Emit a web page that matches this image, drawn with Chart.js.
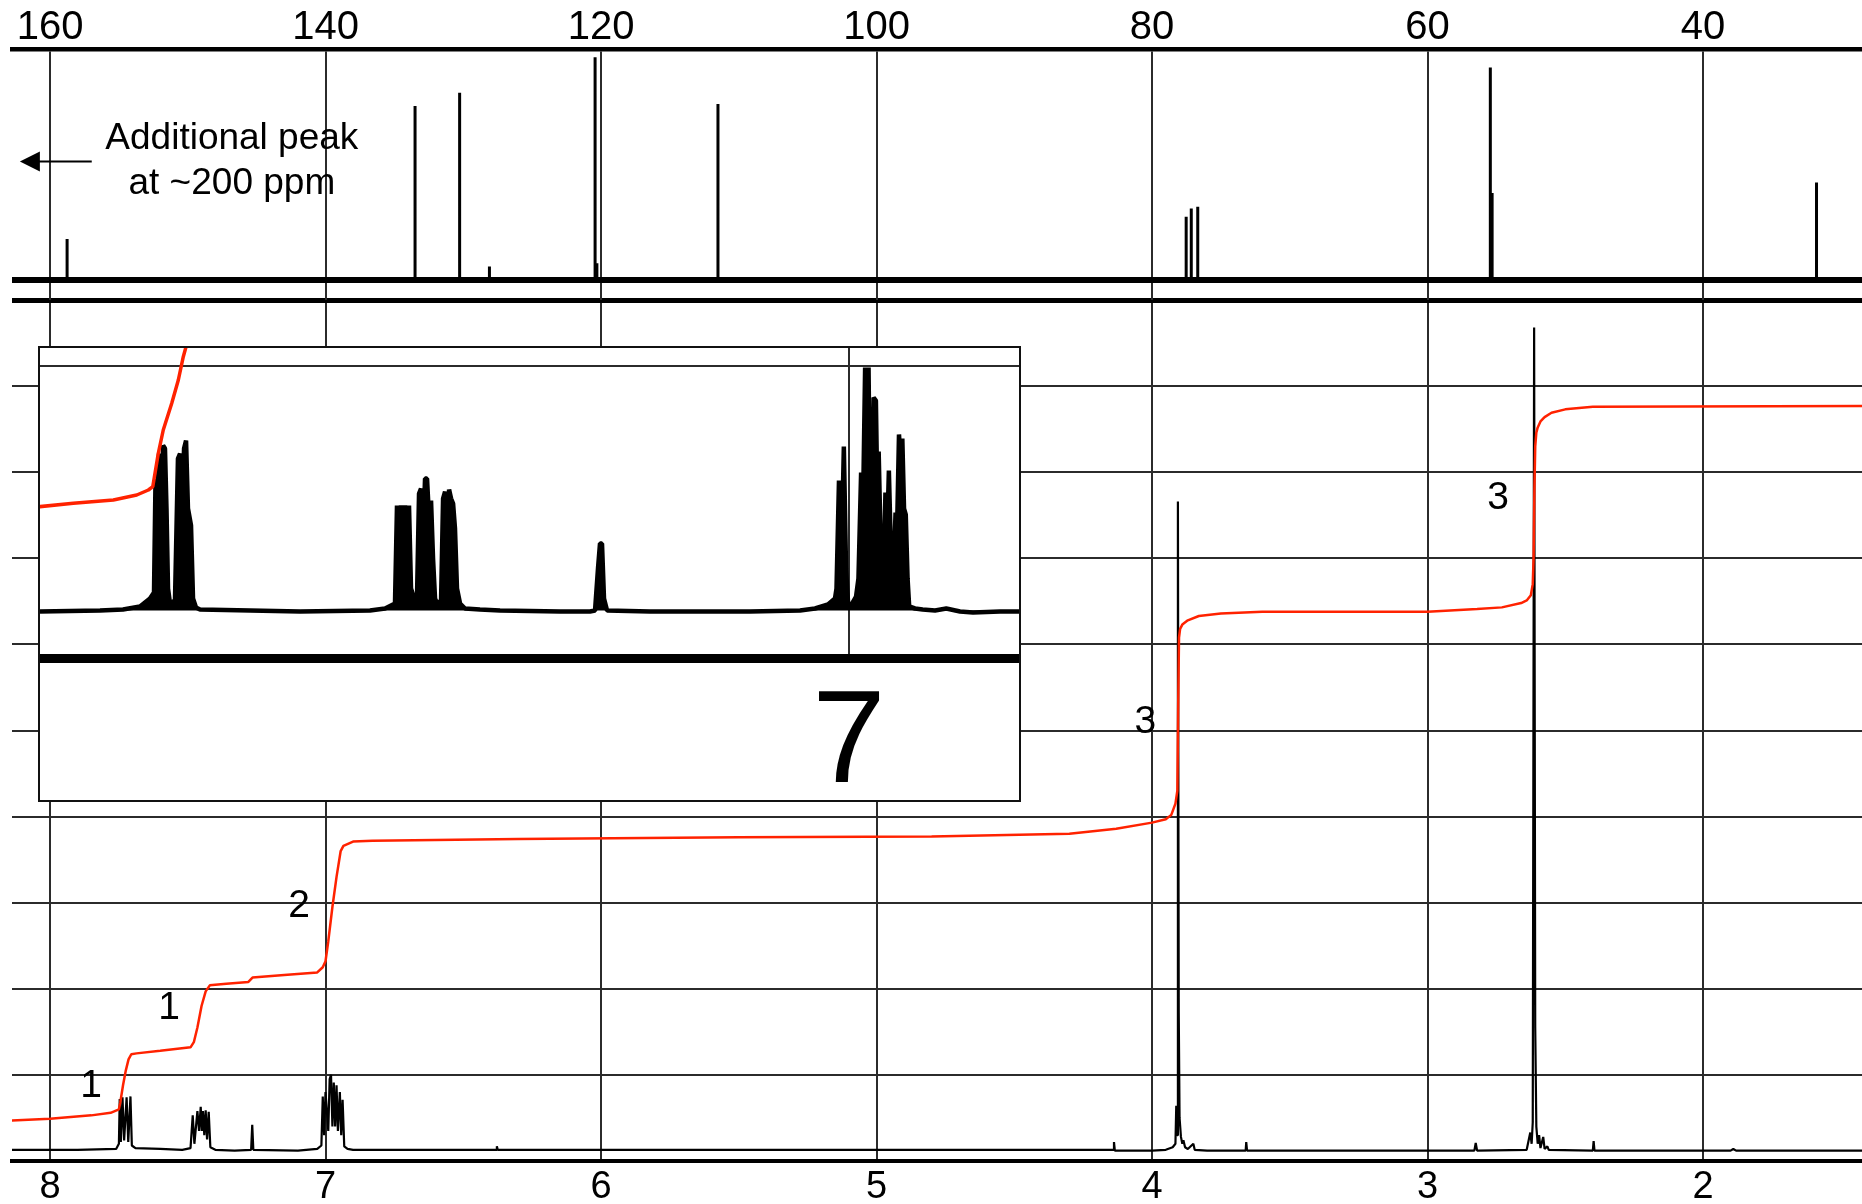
<!DOCTYPE html>
<html>
<head>
<meta charset="utf-8">
<script src="https://cdn.jsdelivr.net/npm/chart.js@4.4.1/dist/chart.umd.min.js"></script>
<style>
    html, body { margin: 0; padding: 0; background: #fff; }
    body { width: 1862px; height: 1204px; position: relative; overflow: hidden; }
    canvas { position: absolute; left: 0; top: 0; }
    #insetBox { position: absolute; left: 38px; top: 346px; width: 983px; height: 456px;
                box-sizing: border-box; border: 2px solid #111; background: #fff; }
</style>
</head>
<body>
<canvas id="protonCanvas" width="1862" height="1204"></canvas>
<canvas id="carbonCanvas" width="1862" height="300"></canvas>
<div id="insetBox"><canvas id="insetCanvas" width="979" height="452"></canvas></div>
<script>
// Axis ranges (ppm)
const protonRange = [1.4229, 8.138];
const carbonRange = [28.458, 162.76];
const insetRange = [6.8218, 7.848];

// 13C spectrum: peak positions (ppm) and heights
const carbonShift  = [158.76, 133.50, 130.30, 130.24, 128.10, 120.43, 120.30, 111.51, 77.52, 77.15, 76.68, 55.44, 55.31, 31.76];
const carbonHeight = [16.3,   69.3,   74.6,   67.7,   5.3,    88.7,   6.6,    70.1,   25.2,  28.5,  29.2,  84.6,  34.6,  38.8];

// 1H spectrum trace (ppm, intensity)
const protonPpm = [8.14, 7.90, 7.76, 7.750, 7.747, 7.743, 7.737, 7.731, 7.722, 7.716, 7.708, 7.703, 7.69, 7.60, 7.52,
    7.490, 7.482, 7.476, 7.465, 7.459, 7.453, 7.449, 7.445, 7.440, 7.435, 7.430, 7.424, 7.418, 7.40, 7.33,
    7.270, 7.266, 7.262, 7.10, 7.030, 7.015, 7.010, 7.005, 7.000, 6.990, 6.985, 6.980, 6.975, 6.970, 6.965,
    6.960, 6.955, 6.948, 6.943, 6.938, 6.932, 6.920, 6.90, 6.380, 6.378, 6.375, 4.20, 4.140, 4.138, 4.135,
    4.00, 3.95, 3.925, 3.915, 3.912, 3.909, 3.906, 3.903, 3.900, 3.895, 3.890, 3.886, 3.880, 3.870, 3.850,
    3.845, 3.80, 3.660, 3.658, 3.655, 2.830, 2.825, 2.820, 2.640, 2.627, 2.622, 2.618, 2.613, 2.609, 2.605,
    2.600, 2.595, 2.590, 2.580, 2.575, 2.565, 2.560, 2.400, 2.397, 2.394, 1.900, 1.890, 1.880, 1.42];
const protonIntensity = [0.13, 0.13, 0.14, 0.20, 0.72, 0.22, 0.74, 0.24, 0.74, 0.22, 0.75, 0.18, 0.15, 0.14, 0.13,
    0.15, 0.53, 0.20, 0.58, 0.35, 0.63, 0.35, 0.58, 0.30, 0.59, 0.25, 0.57, 0.16, 0.13, 0.12,
    0.13, 0.42, 0.13, 0.12, 0.14, 0.18, 0.75, 0.30, 0.80, 0.35, 0.95, 1.00, 0.40, 0.91, 0.40,
    0.88, 0.35, 0.80, 0.30, 0.71, 0.17, 0.14, 0.13, 0.13, 0.17, 0.13, 0.13, 0.13, 0.22, 0.12,
    0.12, 0.13, 0.16, 0.20, 0.64, 0.30, 7.66, 1.73, 0.50, 0.28, 0.20, 0.24, 0.16, 0.14, 0.20,
    0.13, 0.12, 0.12, 0.22, 0.12, 0.12, 0.21, 0.12, 0.13, 0.33, 0.20, 0.45, 9.68, 1.55, 0.40,
    0.20, 0.30, 0.15, 0.28, 0.14, 0.17, 0.13, 0.12, 0.23, 0.12, 0.12, 0.14, 0.12, 0.12];

// 1H integral curve
const integralPpm = [8.14, 8.00, 7.85, 7.78, 7.750, 7.745, 7.735, 7.725, 7.715, 7.705, 7.686, 7.60, 7.49, 7.478,
    7.465, 7.450, 7.435, 7.420, 7.36, 7.28, 7.265, 7.15, 7.03, 7.01, 7.00, 6.99, 6.975, 6.96, 6.945, 6.935,
    6.90, 6.83, 6.30, 5.50, 4.80, 4.30, 4.13, 4.00, 3.95, 3.93, 3.915, 3.908, 3.905, 3.902, 3.898, 3.89,
    3.87, 3.83, 3.75, 3.60, 3.00, 2.82, 2.73, 2.66, 2.64, 2.625, 2.618, 2.615, 2.612, 2.609, 2.605, 2.600,
    2.590, 2.575, 2.55, 2.50, 2.40, 1.42];
const integralValue = [0.47, 0.49, 0.53, 0.56, 0.60, 0.68, 0.88, 1.05, 1.18, 1.24, 1.25, 1.28, 1.32, 1.38,
    1.55, 1.80, 1.97, 2.04, 2.06, 2.08, 2.13, 2.16, 2.19, 2.25, 2.32, 2.55, 2.95, 3.30, 3.60, 3.66,
    3.71, 3.72, 3.74, 3.76, 3.77, 3.80, 3.86, 3.93, 3.97, 4.02, 4.15, 4.30, 5.30, 6.08, 6.18, 6.23,
    6.28, 6.33, 6.36, 6.38, 6.38, 6.41, 6.43, 6.48, 6.51, 6.57, 6.70, 7.00, 7.80, 8.30, 8.46, 8.52,
    8.59, 8.64, 8.69, 8.73, 8.76, 8.77];

// integration numbers
const integralLabels = ['1', '1', '2', '3', '3'];

// inset: expanded aromatic region
const insetPpm = [7.8480, 7.7851, 7.7610, 7.7432, 7.7327, 7.7285, 7.7269, 7.7253, 7.7232, 7.7211, 7.7190, 7.7170,
    7.7154, 7.7138, 7.7117, 7.7065, 7.7034, 7.7012, 7.6991, 7.6970, 7.6949, 7.6929, 7.6897, 7.6876, 7.6845,
    7.6803, 7.6278, 7.5754, 7.5021, 7.4863, 7.4759, 7.4738, 7.4717, 7.4696, 7.4675, 7.4654, 7.4633, 7.4612,
    7.4591, 7.4559, 7.4528, 7.4507, 7.4486, 7.4465, 7.4444, 7.4423, 7.4402, 7.4381, 7.4360, 7.4339, 7.4318,
    7.4276, 7.4255, 7.4234, 7.4213, 7.4192, 7.4171, 7.4150, 7.4130, 7.4109, 7.4077, 7.4025, 7.3868, 7.3658,
    7.3029, 7.2715, 7.2662, 7.2631, 7.2610, 7.2589, 7.2568, 7.2536, 7.2086, 7.1038, 7.0513, 7.0356, 7.0220,
    7.0147, 7.0131, 7.0105, 7.0079, 7.0054, 7.0031, 7.0008, 6.9968, 6.9926, 6.9901, 6.9873, 6.9853, 6.9831,
    6.9811, 6.9795, 6.9777, 6.9758, 6.9742, 6.9718, 6.9701, 6.9689, 6.9669, 6.9654, 6.9633, 6.9618, 6.9601,
    6.9582, 6.9564, 6.9547, 6.9528, 6.9512, 6.9496, 6.9476, 6.9460, 6.9441, 6.9423, 6.9405, 6.9386, 6.9369,
    6.9308, 6.9228, 6.9098, 6.8980, 6.8836, 6.8700, 6.8417, 6.8207];
const insetIntensity = [47, 48, 49, 52, 60, 66, 180, 150, 205, 120, 213, 210,
    150, 70, 55, 58, 200, 205, 150, 210, 218, 150, 133, 60, 51,
    49, 48, 47, 48, 50, 55, 153, 120, 153, 120, 153, 120, 153,
    70, 60, 62, 165, 170, 120, 180, 180, 140, 158, 100, 60, 55,
    58, 160, 167, 110, 169, 160, 155, 130, 70, 55, 50, 49, 48,
    47, 47, 48, 90, 115, 115, 60, 48, 47, 47, 48, 50, 54,
    60, 70, 178, 100, 212, 90, 53, 55, 62, 80, 186, 150, 291,
    200, 291, 120, 150, 261, 258, 150, 207, 120, 58, 100, 166, 120,
    188, 120, 62, 100, 146, 130, 224, 200, 220, 150, 144, 80, 52,
    50, 49, 48, 50, 47, 46, 47, 47];
const insetIntegralPpm = [7.8487, 7.8131, 7.7711, 7.7466, 7.7344, 7.7298, 7.7240, 7.7188, 7.7099, 7.7030, 7.6978, 7.6949, 7.6907];
const insetIntegralValue = [151.8, 155.2, 158.5, 163.5, 168.5, 171.8, 205.2, 228.5, 255.2, 278.5, 301.8, 311.8, 328.5];

// annotation anchors (data coordinates)
const labelAnchorPpm = [7.851, 7.568, 7.096, 4.024, 2.744];
const labelAnchorLevel = [0.87, 1.77, 2.96, 5.10, 7.70];
const noteLines = ['Additional peak', 'at ~200 ppm'];
const noteAnchor = {ppm: 146.8, levels: [52.0, 34.1]};
const arrowAnchor = {tail: 156.97, tip: 162.19, level: 47.2};

Chart.defaults.font.family = '"Liberation Sans", Arial, sans-serif';
Chart.defaults.color = '#000';

const GRID = '#2b2b2b';
const pairs = (xs, ys) => xs.map((v, i) => ({x: v, y: ys[i]}));

function stickTrace(shifts, heights) {
    const pts = [{x: carbonRange[1], y: 0}];
    shifts.forEach((s, i) => {
        pts.push({x: s, y: 0}, {x: s, y: heights[i]}, {x: s, y: 0});
    });
    pts.push({x: carbonRange[0], y: 0});
    return pts;
}

const lineSet = (data, color, width) => ({
    data: data, showLine: true, borderColor: color, borderWidth: width,
    pointRadius: 0, tension: 0, fill: false, borderJoinStyle: 'bevel'
});

const baseOptions = {
    responsive: false, animation: false, devicePixelRatio: 1,
    plugins: {legend: {display: false}, tooltip: {enabled: false}}
};

// 1H chart
const protonNotes = {
    id: 'protonNotes',
    afterDatasetsDraw(chart) {
        const {ctx, scales: {x, y}} = chart;
        ctx.save();
        ctx.font = '39px "Liberation Sans", Arial, sans-serif';
        ctx.fillStyle = '#000';
        ctx.textAlign = 'center';
        ctx.textBaseline = 'middle';
        integralLabels.forEach((t, i) => {
            ctx.fillText(t, x.getPixelForValue(labelAnchorPpm[i]), y.getPixelForValue(labelAnchorLevel[i]));
        });
        ctx.restore();
    }
};

new Chart(document.getElementById('protonCanvas'), {
    type: 'scatter',
    data: {
        datasets: [
            lineSet(pairs(integralPpm, integralValue), '#ff2200', 2.5),
            lineSet(pairs(protonPpm, protonIntensity), '#000', 2.2)
        ]
    },
    options: Object.assign({}, baseOptions, {
        layout: {padding: {top: 300, left: 0, right: 0, bottom: 0}},
        scales: {
            x: {
                type: 'linear', position: 'bottom', reverse: true,
                min: protonRange[0], max: protonRange[1],
                ticks: {stepSize: 1, includeBounds: false, padding: 4, font: {size: 38}, color: '#000', maxRotation: 0},
                grid: {color: GRID, lineWidth: 2, drawTicks: false},
                border: {display: true, color: '#000', width: 4},
                afterFit: s => { s.height = 43; }
            },
            y: {
                type: 'linear', min: 0, max: 10,
                ticks: {stepSize: 1, display: false},
                grid: {color: ctx => ctx.tick && ctx.tick.value === 10 ? '#000' : GRID,
                       lineWidth: ctx => ctx.tick && ctx.tick.value === 10 ? 5 : 2, drawTicks: false},
                border: {display: false},
                afterFit: s => { s.width = 12; }
            }
        }
    }),
    plugins: [protonNotes]
});

// 13C chart
const carbonNotes = {
    id: 'carbonNotes',
    afterDatasetsDraw(chart) {
        const {ctx, scales: {x, y}} = chart;
        ctx.save();
        ctx.fillStyle = '#000';
        ctx.strokeStyle = '#000';
        ctx.font = '37px "Liberation Sans", Arial, sans-serif';
        ctx.textAlign = 'center';
        ctx.textBaseline = 'alphabetic';
        noteLines.forEach((t, i) => {
            ctx.fillText(t, x.getPixelForValue(noteAnchor.ppm), y.getPixelForValue(noteAnchor.levels[i]));
        });
        const tip = x.getPixelForValue(arrowAnchor.tip);
        const tail = x.getPixelForValue(arrowAnchor.tail);
        const ay = y.getPixelForValue(arrowAnchor.level);
        ctx.lineWidth = 2;
        ctx.beginPath();
        ctx.moveTo(tail, ay);
        ctx.lineTo(tip + 15, ay);
        ctx.stroke();
        ctx.beginPath();
        ctx.moveTo(tip, ay);
        ctx.lineTo(tip + 20, ay - 10);
        ctx.lineTo(tip + 20, ay + 10);
        ctx.closePath();
        ctx.fill();
        ctx.restore();
    }
};

new Chart(document.getElementById('carbonCanvas'), {
    type: 'scatter',
    data: {
        datasets: [
            lineSet(stickTrace(carbonShift, carbonHeight), '#000', 3),
            lineSet([{x: carbonRange[1], y: 0}, {x: carbonRange[0], y: 0}], '#000', 6)
        ]
    },
    options: Object.assign({}, baseOptions, {
        layout: {padding: 0},
        scales: {
            x: {
                type: 'linear', position: 'top', reverse: true,
                min: carbonRange[0], max: carbonRange[1],
                ticks: {stepSize: 20, includeBounds: false, padding: -3, font: {size: 40}, color: '#000', maxRotation: 0},
                grid: {color: GRID, lineWidth: 2, drawTicks: false},
                border: {display: true, color: '#000', width: 4.5},
                afterFit: s => { s.height = 49; }
            },
            y: {
                type: 'linear', min: -8, max: 92,
                ticks: {display: false},
                grid: {display: false},
                border: {display: false},
                afterFit: s => { s.width = 12; }
            }
        }
    }),
    plugins: [carbonNotes]
});

// inset chart
const insetTrace = lineSet(pairs(insetPpm, insetIntensity), '#000', 4.5);
insetTrace.fill = {value: 48};
insetTrace.backgroundColor = '#000';

new Chart(document.getElementById('insetCanvas'), {
    type: 'scatter',
    data: {
        datasets: [
            lineSet(pairs(insetIntegralPpm, insetIntegralValue), '#ff2200', 3.5),
            insetTrace
        ]
    },
    options: Object.assign({}, baseOptions, {
        layout: {padding: 0},
        scales: {
            x: {
                type: 'linear', position: 'bottom', reverse: true,
                min: insetRange[0], max: insetRange[1],
                ticks: {stepSize: 1, includeBounds: false, padding: 8, font: {size: 132}, color: '#000', maxRotation: 0},
                grid: {color: GRID, lineWidth: 2, drawTicks: false},
                border: {display: true, color: '#000', width: 9},
                afterFit: s => { s.height = 141.5; }
            },
            y: {
                type: 'linear', min: 0, max: 310.5,
                afterBuildTicks: s => { s.ticks = [{value: 292.5}]; },
                ticks: {display: false},
                grid: {color: GRID, lineWidth: 2, drawTicks: false},
                border: {display: false},
                afterFit: s => { s.width = 0; }
            }
        }
    })
});
</script>
</body>
</html>
